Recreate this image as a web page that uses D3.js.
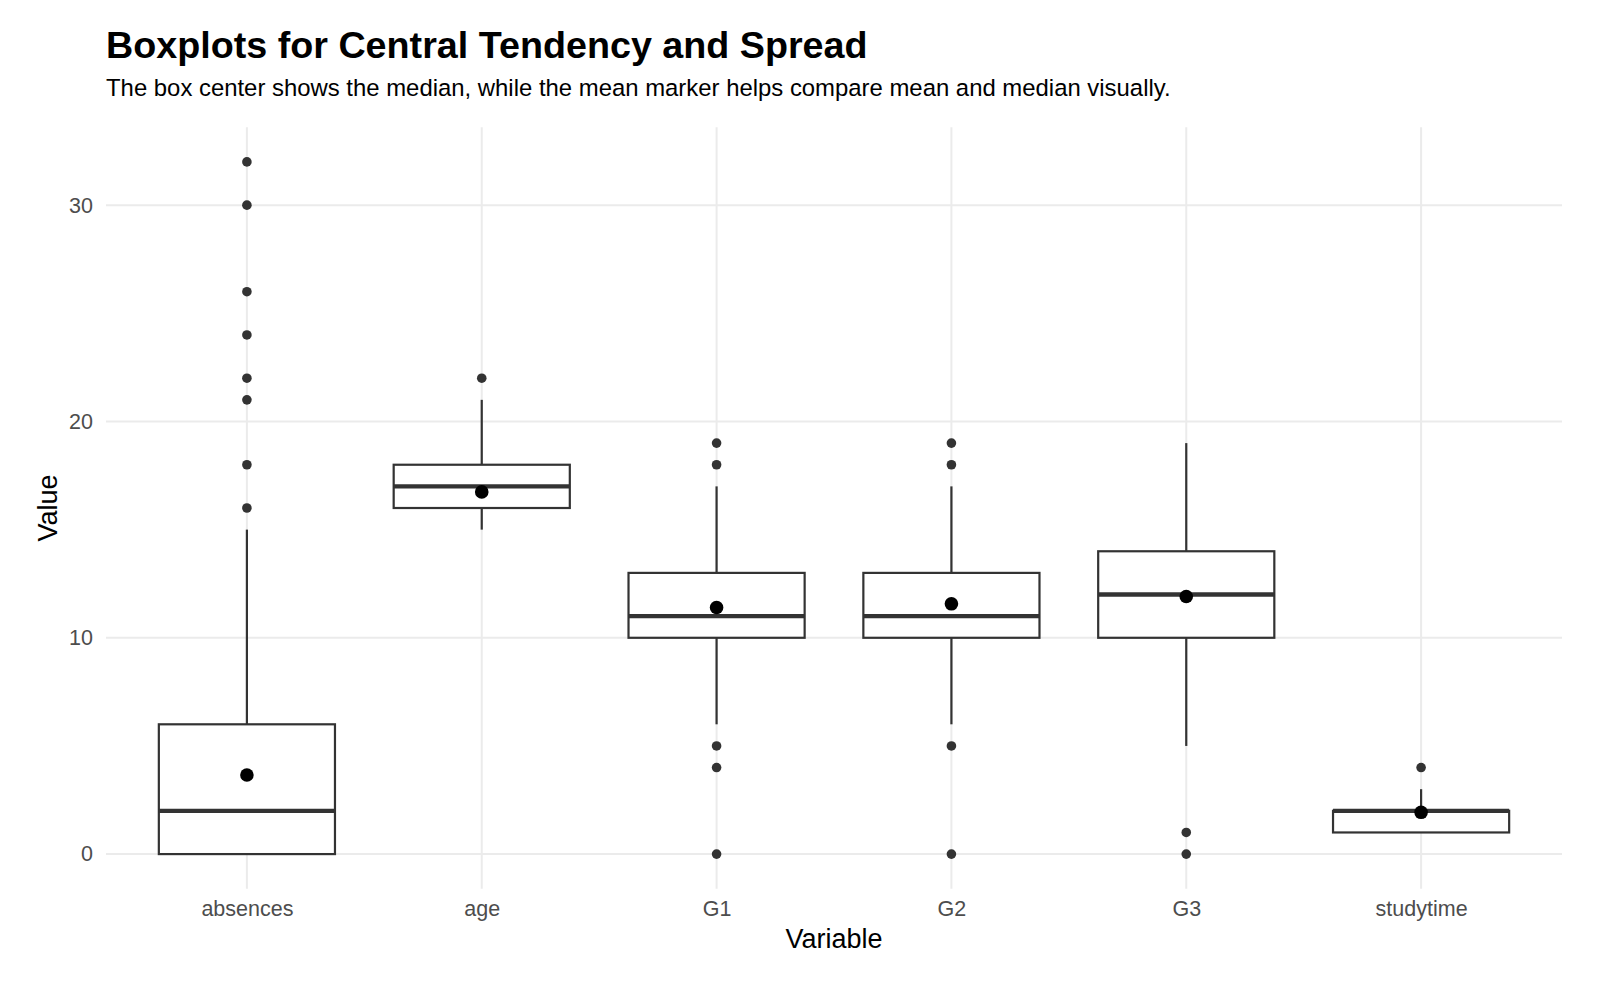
<!DOCTYPE html>
<html>
<head>
<meta charset="utf-8">
<script src="https://cdn.jsdelivr.net/npm/d3@7"></script>
<style>
  body { margin: 0; background: #fff; }
  text { font-family: "Liberation Sans", Arial, sans-serif; }
</style>
</head>
<body>
<div id="wrapper"></div>
<script>

// summary stats
const variables = ["absences", "age", "G1", "G2", "G3", "studytime"];
const q1 = [0, 16, 10, 10, 10, 1];
const medians = [2, 17, 11, 11, 12, 2];
const q3 = [6, 18, 13, 13, 14, 2];
const whiskerLow = [0, 15, 6, 6, 5, 1];
const whiskerHigh = [15, 21, 17, 17, 19, 3];
const means = [3.659, 16.744, 11.399, 11.570, 11.906, 1.931];
const outliers = [
  [16, 18, 21, 22, 24, 26, 30, 32],
  [22],
  [0, 4, 5, 18, 19],
  [0, 5, 18, 19],
  [0, 1],
  [4]
];
const yTicks = [0, 10, 20, 30];

function drawBoxplots() {
  const width = 1600, height = 984;
  const panel = { left: 106, right: 1562, top: 127.3, bottom: 888.7 };

  const svg = d3.select("#wrapper")
      .append("svg")
      .attr("width", width)
      .attr("height", height);

  const data = variables.map(function(v, i) {
    return {
      name: v, q1: q1[i], median: medians[i], q3: q3[i],
      lo: whiskerLow[i], hi: whiskerHigh[i], mean: means[i], out: outliers[i]
    };
  });

  const x = d3.scalePoint()
      .domain(variables)
      .range([panel.left, panel.right])
      .padding(0.6);

  // ggplot style 5% expansion around 0..32
  const y = d3.scaleLinear()
      .domain([-1.6, 33.6])
      .range([panel.bottom, panel.top]);

  const boxWidth = x.step() * 0.75;

  // grid
  svg.append("g")
      .selectAll("line")
      .data(yTicks)
      .enter()
      .append("line")
      .attr("x1", panel.left)
      .attr("x2", panel.right)
      .attr("y1", function(d) { return y(d); })
      .attr("y2", function(d) { return y(d); })
      .attr("stroke", "#ebebeb")
      .attr("stroke-width", 2);

  svg.append("g")
      .selectAll("line")
      .data(variables)
      .enter()
      .append("line")
      .attr("x1", function(d) { return x(d); })
      .attr("x2", function(d) { return x(d); })
      .attr("y1", panel.top)
      .attr("y2", panel.bottom)
      .attr("stroke", "#ebebeb")
      .attr("stroke-width", 2);

  // axes without domain lines, ggplot minimal look
  const yAxis = svg.append("g")
      .attr("transform", "translate(" + panel.left + ",0)")
      .call(d3.axisLeft(y).tickValues(yTicks).tickSize(0).tickPadding(13));

  const xAxis = svg.append("g")
      .attr("transform", "translate(0," + panel.bottom + ")")
      .call(d3.axisBottom(x).tickSize(0).tickPadding(12));

  [yAxis, xAxis].forEach(function(a) {
    a.select(".domain").remove();
    a.selectAll("text")
        .attr("fill", "#4d4d4d")
        .style("font-size", "21.5px");
  });

  const box = svg.selectAll(".box")
      .data(data)
      .enter()
      .append("g")
      .attr("class", "box");

  // whiskers
  box.append("line")
      .attr("x1", function(d) { return x(d.name); })
      .attr("x2", function(d) { return x(d.name); })
      .attr("y1", function(d) { return y(d.q3); })
      .attr("y2", function(d) { return y(d.hi); })
      .attr("stroke", "#333333")
      .attr("stroke-width", 2.2);

  box.append("line")
      .attr("x1", function(d) { return x(d.name); })
      .attr("x2", function(d) { return x(d.name); })
      .attr("y1", function(d) { return y(d.q1); })
      .attr("y2", function(d) { return y(d.lo); })
      .attr("stroke", "#333333")
      .attr("stroke-width", 2.2);

  box.append("rect")
      .attr("x", function(d) { return x(d.name) - boxWidth / 2; })
      .attr("width", boxWidth)
      .attr("y", function(d) { return y(d.q3); })
      .attr("height", function(d) { return y(d.q1) - y(d.q3); })
      .attr("fill", "#ffffff")
      .attr("stroke", "#333333")
      .attr("stroke-width", 2.2);

  box.append("line")
      .attr("x1", function(d) { return x(d.name) - boxWidth / 2; })
      .attr("x2", function(d) { return x(d.name) + boxWidth / 2; })
      .attr("y1", function(d) { return y(d.median); })
      .attr("y2", function(d) { return y(d.median); })
      .attr("stroke", "#333333")
      .attr("stroke-width", 4.4);

  // outliers
  box.selectAll(".outlier")
      .data(function(d) {
        return d.out.map(function(v) { return { name: d.name, value: v }; });
      })
      .enter()
      .append("circle")
      .attr("class", "outlier")
      .attr("cx", function(d) { return x(d.name); })
      .attr("cy", function(d) { return y(d.value); })
      .attr("r", 4.8)
      .attr("fill", "#333333");

  // mean marker
  box.append("circle")
      .attr("cx", function(d) { return x(d.name); })
      .attr("cy", function(d) { return y(d.mean); })
      .attr("r", 6.8)
      .attr("fill", "#000000");

  // titles
  svg.append("text")
      .attr("x", 106)
      .attr("y", 58)
      .style("font-size", "37.7px")
      .style("font-weight", "bold")
      .attr("fill", "#000")
      .text("Boxplots for Central Tendency and Spread");

  svg.append("text")
      .attr("x", 106)
      .attr("y", 96)
      .style("font-size", "23.9px")
      .attr("fill", "#000")
      .text("The box center shows the median, while the mean marker helps compare mean and median visually.");

  svg.append("text")
      .attr("x", (panel.left + panel.right) / 2)
      .attr("y", 948)
      .attr("text-anchor", "middle")
      .style("font-size", "27px")
      .attr("fill", "#000")
      .text("Variable");

  svg.append("text")
      .attr("transform", "translate(57," + (panel.top + panel.bottom) / 2 + ") rotate(-90)")
      .attr("text-anchor", "middle")
      .style("font-size", "27px")
      .attr("fill", "#000")
      .text("Value");
}

drawBoxplots()
</script>
</body>
</html>
